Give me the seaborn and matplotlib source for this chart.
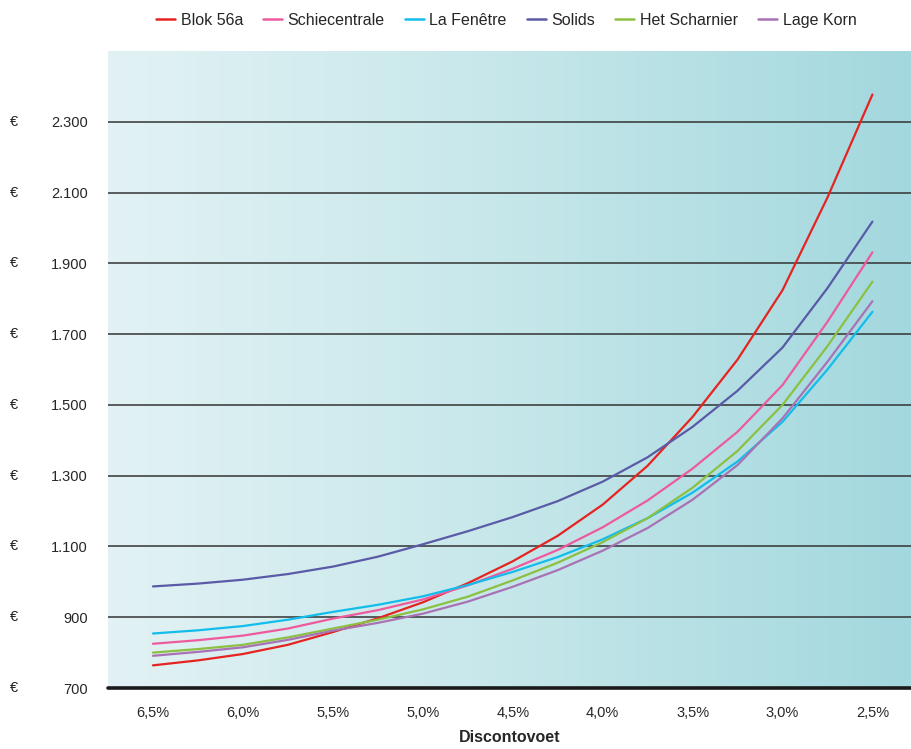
import numpy as np
import pandas as pd
import matplotlib
matplotlib.use("Agg")
import matplotlib.pyplot as plt
import matplotlib.transforms as mtransforms
from matplotlib.colors import LinearSegmentedColormap
import seaborn as sns

# Discount rates (%), from high to low
rates = [6.5, 6.25, 6.0, 5.75, 5.5, 5.25, 5.0, 4.75, 4.5, 4.25,
         4.0, 3.75, 3.5, 3.25, 3.0, 2.75, 2.5]

blok_56a = [764, 778, 796, 822, 858, 897, 942, 996, 1058, 1130,
            1218, 1328, 1466, 1628, 1824, 2086, 2377]
schiecentrale = [825, 835, 848, 868, 896, 920, 950, 990, 1037, 1090,
                 1154, 1230, 1320, 1424, 1556, 1735, 1931]
la_fenetre = [854, 863, 875, 893, 915, 935, 959, 991, 1028, 1070,
              1120, 1180, 1252, 1340, 1452, 1600, 1763]
solids = [987, 995, 1006, 1022, 1043, 1071, 1106, 1143, 1183, 1228,
          1283, 1352, 1438, 1540, 1662, 1830, 2018]
het_scharnier = [800, 810, 822, 843, 868, 893, 922, 958, 1004, 1054,
                 1112, 1180, 1266, 1370, 1500, 1666, 1848]
lage_korn = [791, 802, 815, 836, 862, 884, 910, 944, 986, 1033,
             1088, 1152, 1232, 1330, 1462, 1622, 1793]

series_names = ["Blok 56a", "Schiecentrale", "La Fenêtre", "Solids",
                "Het Scharnier", "Lage Korn"]
series_values = [blok_56a, schiecentrale, la_fenetre, solids,
                 het_scharnier, lage_korn]
series_colors = ["#E52421", "#EE5A9E", "#12BDEB", "#5A5AA6",
                 "#8CC043", "#A872B4"]

x_ticks = [6.5, 6.0, 5.5, 5.0, 4.5, 4.0, 3.5, 3.0, 2.5]
x_tick_labels = ["6,5%", "6,0%", "5,5%", "5,0%", "4,5%", "4,0%",
                 "3,5%", "3,0%", "2,5%"]
y_ticks = [700, 900, 1100, 1300, 1500, 1700, 1900, 2100, 2300]
y_tick_labels = ["700", "900", "1.100", "1.300", "1.500", "1.700",
                 "1.900", "2.100", "2.300"]

rows = []
for name, vals in zip(series_names, series_values):
    for r, v in zip(rates, vals):
        rows.append({"rate": r, "value": v, "project": name})
df = pd.DataFrame(rows)

sns.set_style("white")
plt.rcParams["font.family"] = ["Liberation Sans", "DejaVu Sans"]

fig = plt.figure(figsize=(9.12, 7.49), dpi=100)
ax = fig.add_axes([108 / 912, 61 / 749, 1 - 108 / 912, 637 / 749])

# Horizontal background gradient
grad_cmap = LinearSegmentedColormap.from_list(
    "bg", ["#E2F2F4", "#C6E7EA", "#A3D8DE"])
grad = np.linspace(0, 1, 256).reshape(1, -1)
ax.imshow(grad, cmap=grad_cmap, aspect="auto", extent=[0, 1, 0, 1],
          transform=ax.transAxes, zorder=0, interpolation="bicubic")

for y in y_ticks[1:]:
    ax.axhline(y, color="#333333", lw=1.1, zorder=1)
ax.axhline(700, color="#1a1a1a", lw=2.6, zorder=3, clip_on=False)

sns.lineplot(data=df, x="rate", y="value", hue="project",
             hue_order=series_names,
             palette=dict(zip(series_names, series_colors)),
             linewidth=1.6, ax=ax, zorder=2, legend=False)

ax.set_xlim(6.75, 2.28)
ax.set_ylim(700, 2500)
ax.set_xticks(x_ticks)
ax.set_xticklabels(x_tick_labels, fontsize=10.5)
ax.set_yticks(y_ticks)
ax.set_yticklabels(y_tick_labels, fontsize=10.5)
ax.tick_params(axis="both", length=0)
ax.tick_params(axis="y", pad=14.5)
ax.tick_params(axis="x", pad=13)
for s in ax.spines.values():
    s.set_visible(False)

ax.set_xlabel("Discontovoet", fontsize=11.5, fontweight="bold",
              labelpad=7)
ax.set_ylabel("")

# Euro signs in front of every y tick label
trans = mtransforms.blended_transform_factory(fig.transFigure, ax.transData)
for y in y_ticks:
    ax.text(14 / 912, y, "€", transform=trans, ha="center", va="center",
            fontsize=10.5, color="#222222", clip_on=False)

handles = [plt.Line2D([], [], color=c, lw=1.8) for c in series_colors]
fig.legend(handles, series_names, loc="center", ncol=6,
           bbox_to_anchor=(0.555, 0.973), frameon=False,
           handlelength=1.2, handletextpad=0.35, columnspacing=1.25,
           prop={"size": 11.5})

fig.savefig("out.png", dpi=100)
